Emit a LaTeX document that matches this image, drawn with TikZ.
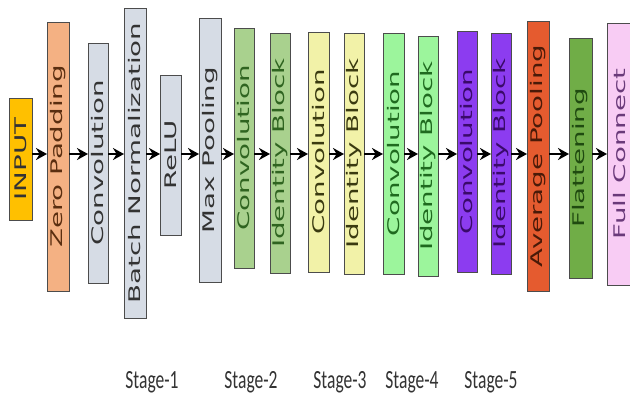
\documentclass[tikz,border=0pt]{standalone}
\usepackage{fontspec}
\usetikzlibrary{arrows.meta}
\newfontfamily\lyrfont{DejaVu Sans}
\newfontfamily\stgfont{Carlito}
\definecolor{cInput}{HTML}{FFC000}
\definecolor{cZero}{HTML}{F4B183}
\definecolor{cGrey}{HTML}{D6DCE5}
\definecolor{cS2}{HTML}{A9D18E}
\definecolor{cS3}{HTML}{F2F2A8}
\definecolor{cS4}{HTML}{9CF59C}
\definecolor{cS5}{HTML}{8C3CF0}
\definecolor{cAvg}{HTML}{E55B2F}
\definecolor{cFlat}{HTML}{70AD47}
\definecolor{cFull}{HTML}{F8CCF4}
\definecolor{tDark}{HTML}{333333}
\definecolor{tBrown}{HTML}{5A2E10}
\definecolor{tS2}{HTML}{2F6420}
\definecolor{tS3}{HTML}{3A3A10}
\definecolor{tS4}{HTML}{1F6A1F}
\definecolor{tS5}{HTML}{3A0A6A}
\definecolor{tAvg}{HTML}{4A1A08}
\definecolor{tFlat}{HTML}{1F4A10}
\definecolor{tFull}{HTML}{6A3A7A}
\newcommand{\vt}[1]{\rotatebox{90}{\scalebox{1.73}[1]{#1}}}
\newcommand{\st}[1]{\scalebox{1}[1.5]{#1}}
\tikzset{
  layer/.style={draw=black!70, line width=0.8pt, inner sep=0pt, outer sep=0pt,
    font={\lyrfont\fontsize{16}{18}\selectfont}},
  arr/.style={line width=2.4pt, -{Stealth[length=11pt,width=12pt]}},
  stagelbl/.style={font={\stgfont\fontsize{17.5}{20}\selectfont}, text=tDark, inner sep=0pt, anchor=base}
}
\begin{document}
\begin{tikzpicture}[x=1pt,y=-1pt]
\useasboundingbox (0,0) rectangle (630,394);
\clip (0,0) rectangle (630,394);
\coordinate (ax) at (0,154);
\node[layer, fill=cInput, text=tDark, minimum width=23pt, minimum height=122pt] (n1) at (20.5,159) {\vt{INPUT}};
\node[layer, fill=cZero, text=tBrown, minimum width=22pt, minimum height=269pt] (n2) at (58,156.5) {\vt{Zero Padding}};
\node[layer, fill=cGrey, text=tDark, minimum width=20pt, minimum height=240pt] (n3) at (98,163) {\vt{Convolution}};
\node[layer, fill=cGrey, text=tDark, minimum width=22pt, minimum height=310pt] (n4) at (135,163) {\vt{Batch Normalization}};
\node[layer, fill=cGrey, text=tDark, minimum width=21pt, minimum height=160pt] (n5) at (170.5,155) {\vt{ReLU}};
\node[layer, fill=cGrey, text=tDark, minimum width=22pt, minimum height=264pt] (n6) at (210,150) {\vt{Max Pooling}};
\node[layer, fill=cS2, text=tS2, minimum width=20pt, minimum height=240pt] (n7) at (244,148) {\vt{Convolution}};
\node[layer, fill=cS2, text=tS2, minimum width=20pt, minimum height=240pt] (n8) at (280,153) {\vt{Identity Block}};
\node[layer, fill=cS3, text=tS3, minimum width=21pt, minimum height=240pt] (n9) at (318.5,152) {\vt{Convolution}};
\node[layer, fill=cS3, text=tS3, minimum width=20pt, minimum height=241pt] (n10) at (354,153.5) {\vt{Identity Block}};
\node[layer, fill=cS4, text=tS4, minimum width=21pt, minimum height=241pt] (n11) at (393.5,153.5) {\vt{Convolution}};
\node[layer, fill=cS4, text=tS4, minimum width=20pt, minimum height=240pt] (n12) at (428,156) {\vt{Identity Block}};
\node[layer, fill=cS5, text=tS5, minimum width=20pt, minimum height=241pt] (n13) at (467,151.5) {\vt{Convolution}};
\node[layer, fill=cS5, text=tS5, minimum width=20pt, minimum height=241pt] (n14) at (501,153.5) {\vt{Identity Block}};
\node[layer, fill=cAvg, text=tAvg, minimum width=22pt, minimum height=270pt] (n15) at (538,156) {\vt{Average Pooling}};
\node[layer, fill=cFlat, text=tFlat, minimum width=23pt, minimum height=240pt] (n16) at (580.5,158) {\vt{Flattening}};
\node[layer, fill=cFull, text=tFull, minimum width=26pt, minimum height=262pt] (n17) at (620,154) {\vt{Full Connect}};
\foreach \a/\b in {n1/n2,n2/n3,n3/n4,n4/n5,n5/n6,n6/n7,n7/n8,n8/n9,n9/n10,n10/n11,n11/n12,n12/n13,n13/n14,n14/n15,n15/n16,n16/n17}
  \draw[arr] (\a.east |- ax) -- (\b.west |- ax);
\node[stagelbl] (s1) at (152,388) {\st{Stage-1}};
\node[stagelbl] (s2) at (251,388) {\st{Stage-2}};
\node[stagelbl] (s3) at (340,388) {\st{Stage-3}};
\node[stagelbl] (s4) at (412,388) {\st{Stage-4}};
\node[stagelbl] (s5) at (491,388) {\st{Stage-5}};
\end{tikzpicture}
\end{document}
